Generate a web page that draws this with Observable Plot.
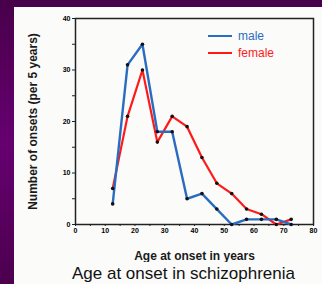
<!DOCTYPE html>
<html><head><meta charset="utf-8">
<script src="https://cdn.jsdelivr.net/npm/d3@7"></script>
<script src="https://cdn.jsdelivr.net/npm/@observablehq/plot@0.6"></script>
<style>
html,body{margin:0;padding:0;}
body{width:322px;height:284px;overflow:hidden;position:relative;background:linear-gradient(to bottom,#48004a,#660070 50%,#4c004e);font-family:"Liberation Sans",Arial,sans-serif;}
#panel{position:absolute;left:14px;top:7px;width:308px;height:277px;background:#fbfbfa;}
#chart{position:absolute;left:0;top:0;}
#title{position:absolute;left:44px;width:279px;top:265px;font-size:17px;line-height:17px;text-align:center;color:#111;white-space:nowrap;}
.sw{position:absolute;height:2px;width:24px;}
.lt{position:absolute;font-size:12px;line-height:14px;}
</style>
</head><body>
<div id="panel"></div>
<div id="chart"></div>
<div class="sw" style="left:208px;top:35px;background:#2a6cc0"></div>
<div class="lt" style="left:238px;top:29px;color:#2a6cc0">male</div>
<div class="sw" style="left:208px;top:52px;background:#ff1a1a"></div>
<div class="lt" style="left:238px;top:46px;color:#ff1a1a">female</div>
<div id="title">Age at onset in schizophrenia</div>
<script>
const ages = [12.5,17.5,22.5,27.5,32.5,37.5,42.5,47.5,52.5,57.5,62.5,67.5,72.5];
const male = [4,31,35,18,18,5,6,3,0,1,1,1,0];
const female = [7,21,30,16,21,19,13,8,6,3,2,0,1];
const xTicks = [0,10,20,30,40,50,60,70,80];
const yTicks = [0,10,20,30,40];
const yMinor = [5,15,25,35];
const xMinor = [5,15,25,35,45,55,65,75];
const xLabel = "Age at onset in years";
const yLabel = "Number of onsets (per 5 years)";

const mData = ages.map((a,i)=>({age:a,n:male[i]}));
const fData = ages.map((a,i)=>({age:a,n:female[i]}));

const chart = Plot.plot({
  width: 322, height: 262,
  marginLeft: 75, marginRight: 9, marginTop: 18, marginBottom: 38,
  style: {background: "transparent", fontFamily: "Liberation Sans, Arial, sans-serif"},
  x: {domain: [0,80]},
  y: {domain: [0,40]},
  marks: [
    Plot.frame({stroke: "#222", strokeWidth: 1.5}),
    Plot.axisY({ticks: yTicks, tickSize: 3, tickPadding: 2, fontSize: 7, fontWeight: "bold", label: null, stroke:"#222"}),
    Plot.axisY({ticks: yMinor, tickSize: 3, text: null, label: null, stroke:"#222"}),
    Plot.axisX({ticks: xTicks, tickSize: 2, tickPadding: 2, fontSize: 7, fontWeight: "bold", label: null, stroke:"#222"}),
    Plot.axisX({ticks: xMinor, tickSize: 2, text: null, label: null, stroke:"#222"}),
    Plot.line(fData, {x: "age", y: "n", stroke: "#ff1a1a", strokeWidth: 2.2}),
    Plot.line(mData, {x: "age", y: "n", stroke: "#2a6cc0", strokeWidth: 2.4}),
    Plot.dot(fData, {x: "age", y: "n", r: 1.8, fill: "#111"}),
    Plot.dot(mData, {x: "age", y: "n", r: 1.8, fill: "#111"}),
    Plot.text([xLabel], {frameAnchor: "bottom", dy: 35, text: d=>d, fontSize: 12, fontWeight: "bold", fill: "#1a1a1a", lineAnchor: "bottom", textAnchor: "middle"}),
    Plot.text([yLabel], {frameAnchor: "left", dx: -42, rotate: -90, text: d=>d, fontSize: 12, fontWeight: "bold", fill: "#1a1a1a", textAnchor: "middle", lineAnchor: "middle"})
  ]
});
document.getElementById("chart").appendChild(chart);
</script>
</body></html>
